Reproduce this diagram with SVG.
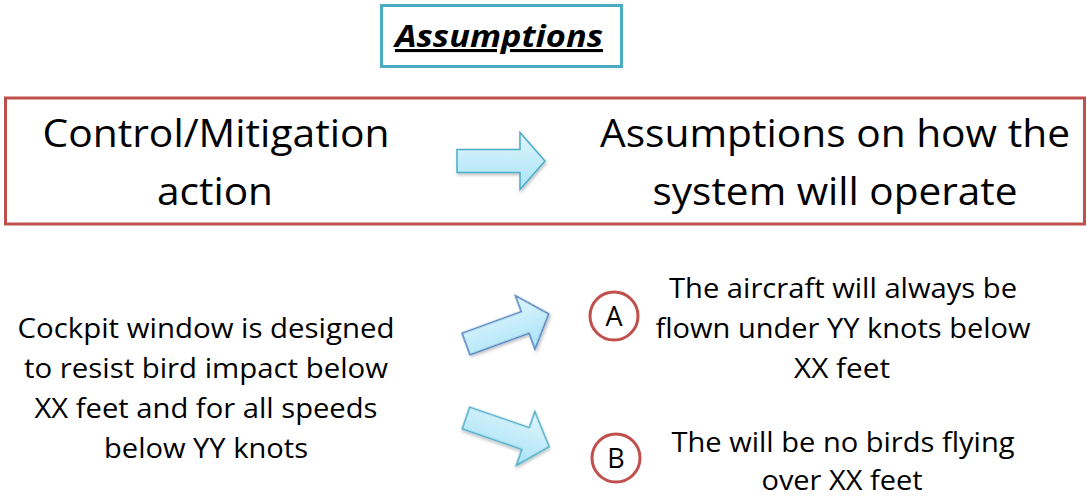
<svg xmlns="http://www.w3.org/2000/svg" width="1087" height="500" viewBox="0 0 1087 500">
  <defs>
    <linearGradient id="arrowFill" x1="0" y1="0" x2="0" y2="1">
      <stop offset="0" stop-color="#dff6fd"/>
      <stop offset="1" stop-color="#a9e2f6"/>
    </linearGradient>
    <filter id="shadow" x="-20%" y="-20%" width="140%" height="150%">
      <feDropShadow dx="1" dy="2" stdDeviation="1.5" flood-color="#000" flood-opacity="0.25"/>
    </filter>
    <!-- block arrow: tail at origin, pointing along +x -->
    <path id="blockArrow" d="M0,-11.5 H63 V-28.5 L88,0 L63,28.5 V11.5 H0 Z"/>
  </defs>
  <style>
    text { font-family: "Open Sans", "Liberation Sans", sans-serif; fill: #000; }
    .big { font-size: 38px; text-anchor: middle; }
    .body { font-size: 28px; text-anchor: middle; }
    .title { font-size: 31px; font-weight: bold; font-style: italic; text-decoration: underline; text-anchor: middle; }
    .arrow { fill: url(#arrowFill); stroke-width: 1.5; stroke-linejoin: miter; filter: url(#shadow); }
    .badge { fill: #fff; stroke: #c0504d; stroke-width: 3; }
    .letter { font-size: 27px; text-anchor: middle; }
  </style>
  <rect width="1087" height="500" fill="#fff"/>

  <g id="title">
    <rect x="381.5" y="5.5" width="240" height="61" fill="#fff" stroke="#4bacc6" stroke-width="3"/>
    <text class="title" x="499" y="47" textLength="208" lengthAdjust="spacingAndGlyphs">Assumptions</text>
  </g>

  <g id="header">
    <rect x="5.5" y="98" width="1079" height="126" fill="#fff" stroke="#c0504d" stroke-width="3"/>
    <g id="control-label">
      <text class="big" x="216" y="147" textLength="347" lengthAdjust="spacingAndGlyphs">Control/Mitigation</text>
      <text class="big" x="215" y="205" textLength="116" lengthAdjust="spacingAndGlyphs">action</text>
    </g>
    <g id="assumption-label">
      <text class="big" x="835" y="147" textLength="470" lengthAdjust="spacingAndGlyphs">Assumptions on how the</text>
      <text class="big" x="835" y="205" textLength="365" lengthAdjust="spacingAndGlyphs">system will operate</text>
    </g>
  </g>

  <g id="mitigation">
    <text class="body" x="206" y="338" textLength="377" lengthAdjust="spacingAndGlyphs">Cockpit window is designed</text>
    <text class="body" x="206" y="378" textLength="364" lengthAdjust="spacingAndGlyphs">to resist bird impact below</text>
    <text class="body" x="206" y="418" textLength="343" lengthAdjust="spacingAndGlyphs">XX feet and for all speeds</text>
    <text class="body" x="206" y="458" textLength="204" lengthAdjust="spacingAndGlyphs">below YY knots</text>
  </g>

  <g id="assumption-a">
    <circle class="badge" cx="614" cy="316" r="24"/>
    <text class="letter" x="614" y="326">A</text>
    <text class="body" x="843" y="298" textLength="348" lengthAdjust="spacingAndGlyphs">The aircraft will always be</text>
    <text class="body" x="843" y="338" textLength="375" lengthAdjust="spacingAndGlyphs">flown under YY knots below</text>
    <text class="body" x="842" y="378" textLength="96" lengthAdjust="spacingAndGlyphs">XX feet</text>
  </g>

  <g id="assumption-b">
    <circle class="badge" cx="616" cy="458" r="24"/>
    <text class="letter" x="616" y="468">B</text>
    <text class="body" x="843" y="452" textLength="343" lengthAdjust="spacingAndGlyphs">The will be no birds flying</text>
    <text class="body" x="842" y="490" textLength="161" lengthAdjust="spacingAndGlyphs">over XX feet</text>
  </g>

  <g id="connectors">
    <use href="#blockArrow" class="arrow" stroke="#4bacc6" transform="translate(457,161)"/>
    <use href="#blockArrow" class="arrow" stroke="#4f81bd" transform="translate(466,344) rotate(-20)"/>
    <use href="#blockArrow" class="arrow" stroke="#4bacc6" transform="translate(466,418) rotate(19)"/>
  </g>
</svg>
